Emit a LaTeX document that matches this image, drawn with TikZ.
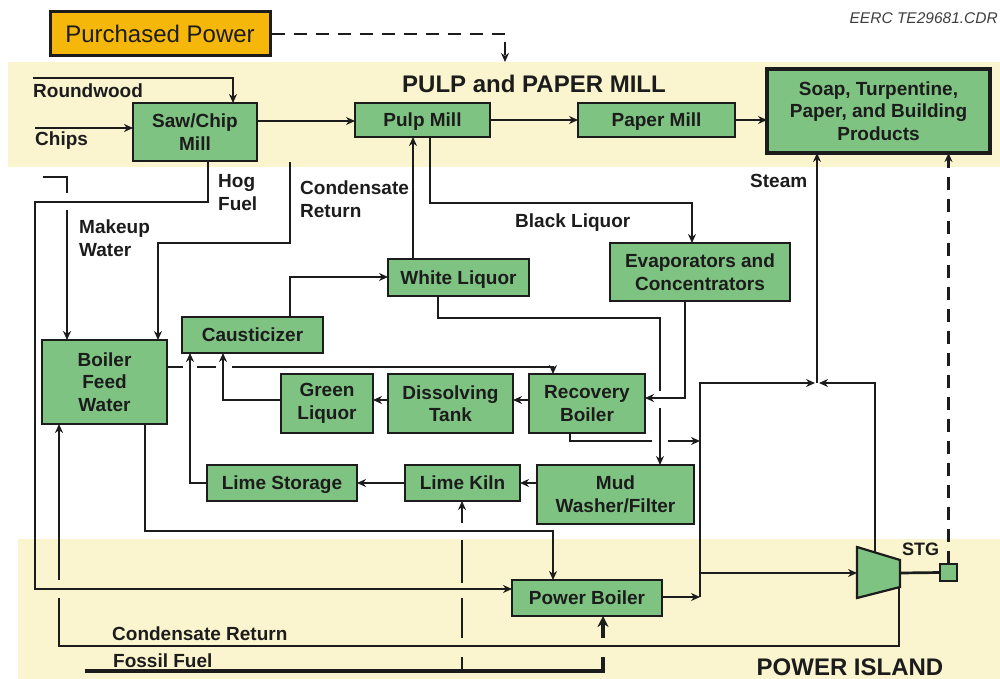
\documentclass[tikz,border=0pt]{standalone}
\usepackage{fontspec}
\setmainfont{Liberation Sans}
\usetikzlibrary{arrows.meta}
\definecolor{bandyellow}{RGB}{251,245,207}
\definecolor{boxgreen}{RGB}{127,195,130}
\definecolor{ppgold}{RGB}{245,184,10}
\definecolor{ink}{RGB}{28,28,28}
\tikzset{
  box/.style={draw=ink, fill=boxgreen, line width=2.2pt, inner sep=0pt, outer sep=0pt,
    align=center, font=\fontsize{19}{22.5}\selectfont\bfseries, text=ink},
  oneline/.style={text height=13.6pt, text depth=0pt},
  conn/.style={draw=ink, line width=2.7pt, -{Stealth[length=9pt,width=8pt]}},
  plainline/.style={draw=ink, line width=2.7pt},
  dsh/.style={dash pattern=on 13pt off 9pt},
  fossil/.style={line width=3.2pt, -{Stealth[length=11pt,width=11pt]}},
  lbl/.style={font=\fontsize{19}{22.5}\selectfont\bfseries, text=ink, inner sep=0pt,
    anchor=base west, align=left},
  title/.style={font=\fontsize{24}{28}\selectfont\bfseries, text=ink, inner sep=0pt, anchor=base},
}
\newcommand\mybox[7][]{%
  \node[box,#1, minimum width={#5pt-#3pt}, minimum height={#6pt-#4pt}]
    (#2) at ({(#3+#5)/2},{(#4+#6)/2}) {#7};}
\begin{document}
\begin{tikzpicture}[x=1pt,y=-1pt]
\useasboundingbox (0,0) rectangle (1000,679);
% bands
\fill[bandyellow] (8,62) rectangle (1000,167);
\fill[bandyellow] (18,539) rectangle (1000,679);
% titles
\node[title] (tpulp) at (534,93) {PULP and PAPER MILL};
\node[title] (tpower) at (850,675) {POWER ISLAND};
\node[anchor=base east, inner sep=0pt, font=\fontsize{15.5}{18}\selectfont\itshape, text=ink!85] (eerc) at (998,24) {EERC TE29681.CDR};
% purchased power
\node[draw=ink, fill=ppgold, line width=3pt, inner sep=0pt, minimum width=220pt, minimum height=44pt,
  font=\fontsize{24}{28}\selectfont, text=ink] (pp) at (160,34) {Purchased Power};
% boxes
\mybox{saw}{133}{103}{257}{161}{Saw/Chip\\Mill}
\mybox[oneline]{pulp}{355}{103}{490}{137}{Pulp Mill}
\mybox[oneline]{paper}{578}{103}{735}{137}{Paper Mill}
\mybox[line width=3.5pt]{soap}{767}{69}{990}{153}{Soap, Turpentine,\\Paper, and Building\\Products}
\mybox{bfw}{42}{340}{167}{424}{Boiler\\Feed\\Water}
\mybox[oneline]{caus}{182}{317}{323}{353}{Causticizer}
\mybox[oneline]{white}{388}{259}{529}{296}{White Liquor}
\mybox{evap}{610}{243}{790}{301}{Evaporators and\\Concentrators}
\mybox{green}{281}{374}{373}{433}{Green\\Liquor}
\mybox{diss}{388}{374}{513}{433}{Dissolving\\Tank}
\mybox{rec}{529}{374}{645}{433}{Recovery\\Boiler}
\mybox[oneline]{limes}{207}{465}{357}{501}{Lime Storage}
\mybox[oneline]{kiln}{405}{465}{520}{501}{Lime Kiln}
\mybox{mud}{537}{465}{694}{524}{Mud\\Washer/Filter}
\mybox[oneline]{pb}{512}{580}{662}{616}{Power Boiler}
\mybox{gen}{940}{564}{957}{581}{}
% turbine
\draw[draw=ink, fill=boxgreen, line width=2.2pt, line join=miter] (857,547) -- (900,560) -- (900,587) -- (857,598) -- cycle;
\coordinate (tin) at (857,573);
\coordinate (tout) at (900,573);
\coordinate (ttop) at (875,552.5);
\coordinate (texh) at (899,587);
\coordinate (ppin) at (505,62);
% labels
\node[lbl] (lround) at (33,98) {Roundwood};
\node[lbl] (lchips) at (35,146) {Chips};
\node[lbl] (lhog) at (218,210) {Hog\\Fuel};
\node[lbl] (lcond1) at (300,217) {Condensate\\Return};
\node[lbl] (lmake) at (79,256) {Makeup\\Water};
\node[lbl] (lblack) at (515,227) {Black Liquor};
\node[lbl] (lsteam) at (750,187) {Steam};
\node[lbl, font=\fontsize{18}{20}\selectfont\bfseries] (lstg) at (902,555) {STG};
\node[lbl] (lcond2) at (112,640) {Condensate Return};
\node[lbl] (lfossil) at (113,667) {Fossil Fuel};
% connectors
\draw[conn, dsh] (pp.east) -| (ppin);
\draw[conn] (33,78) -| (saw.north -| 233,0);
\draw[conn] (35,128) -- (saw.west |- 0,128);
\draw[conn] (saw.east |- 0,121) -- (pulp.west |- 0,121);
\draw[conn] (pulp.east |- 0,120) -- (paper.west |- 0,120);
\draw[conn] (paper.east |- 0,120) -- (soap.west |- 0,120);
\draw[conn] (saw.south -| 208,0) |- (35,202) |- (pb.west |- 0,589);
\draw[conn] (43,177) -| (67,193) (67,210) -- (bfw.north -| 67,0);
\draw[conn] (290,162) |- (158,243) -- (bfw.north -| 158,0);
\draw[conn] (white.north -| 413,0) -- (pulp.south -| 413,0);
\draw[conn] (pulp.south -| 430,0) |- (692,203) -- (evap.north -| 692,0);
\draw[conn] (caus.north -| 290,0) |- (white.west |- 0,277);
\draw[conn] (rec.south -| 570,0) |- (652,441) (668,441) -- (700,441);
\draw[conn] (white.south -| 438,0) |- (660,318) -- (660,391) (660,408) -- (mud.north -| 660,0);
\draw[conn] (evap.south -| 685,0) |- (rec.east |- 0,398);
\draw[conn] (rec.west |- 0,400) -- (diss.east |- 0,400);
\draw[conn] (diss.west |- 0,400) -- (green.east |- 0,400);
\draw[conn] (green.west |- 0,400) -| (caus.south -| 223,0);
\draw[conn] (limes.west |- 0,483) -| (caus.south -| 190,0);
\draw[conn] (kiln.west |- 0,483) -- (limes.east |- 0,483);
\draw[conn] (mud.west |- 0,483) -- (kiln.east |- 0,483);
\draw[conn] (bfw.east |- 0,367) -- (183,367) (197,367) -- (216,367) (232,367) -| (rec.north -| 553,0);
\draw[conn] (pb.east |- 0,597) -- (700,597);
\draw[conn] (700,597) |- (815,383);
\draw[conn] (700,573) -- (tin);
\draw[conn] (ttop) |- (819,383);
\draw[conn] (817,383) -- (soap.south -| 817,0);
\draw[plainline] (tout) -- (gen.west);
\draw[conn, dsh] (gen.north) -- (soap.south -| gen.north);
\draw[conn] (texh) |- (59,646) -- (59,598) (59,580) -- (bfw.south -| 59,0);
\draw[conn, fossil] (85,671) -| (603,657) (603,638) -- (pb.south -| 603,0);
\draw[conn] (462,671) -- (462,657) (462,638) -- (462,598) (462,583) -- (462,540) (462,523) -- (kiln.south -| 462,0);
\draw[conn] (bfw.south -| 145,0) |- (553,531) -- (pb.north -| 553,0);
\end{tikzpicture}
\end{document}
